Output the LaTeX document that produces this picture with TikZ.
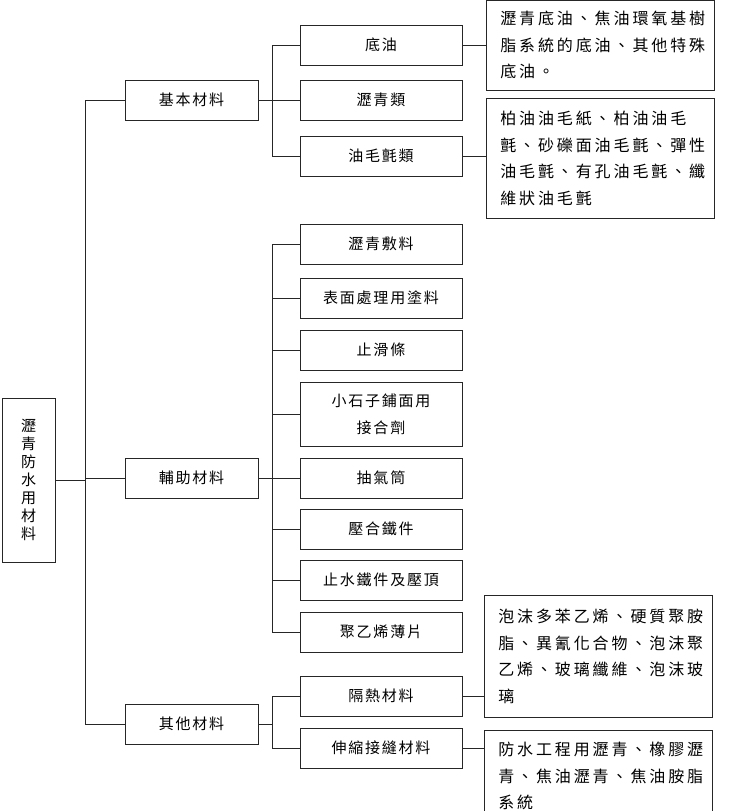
\documentclass[tikz,border=0pt]{standalone}
\usepackage{fontspec}
\newfontfamily\cjk[LetterSpace=12]{Noto Sans CJK TC}
\newfontfamily\cjknote[LetterSpace=18]{Noto Sans CJK TC}
\usetikzlibrary{positioning}
\tikzset{
  every picture/.style = {
    line width=0.7pt,
    draw=black!85
  },
  rootbox/.style={
    draw,
    shape = rectangle,
    minimum width = 53pt,
    minimum height = 164pt,
    inner sep = 2pt,
    align = center,
    font = \cjk\fontsize{15}{18}\selectfont
  },
  cat/.style={
    draw,
    shape = rectangle,
    minimum width = 133pt,
    minimum height = 40pt,
    inner sep = 2pt,
    font = \cjk\fontsize{15}{18}\selectfont
  },
  item/.style={
    draw,
    shape = rectangle,
    minimum width = 162pt,
    minimum height = 40pt,
    inner sep = 2pt,
    align = center,
    font = \cjk\fontsize{15}{27}\selectfont
  },
  note/.style={
    draw,
    shape = rectangle,
    anchor = north west,
    text width = 200pt,
    minimum width = 228pt,
    inner xsep = 14pt,
    inner ysep = 4pt,
    align = left,
    font = \cjknote\fontsize{16}{26.5}\selectfont
  }
}

\begin{document}
\begin{tikzpicture}[x=1pt,y=-1pt]
    \useasboundingbox (0,0) rectangle (745,811);

    % root and main groups
    \node[rootbox] (root) at (28.5,480) {瀝\\青\\防\\水\\用\\材\\料};
    \node[cat] (base) at (191.5,100) {基本材料};
    \node[cat] (aux) at (191.5,478) {輔助材料};
    \node[cat] (other) at (191.5,724) {其他材料};

    % items
    \node[item] (oil) at (381,45) {底油};
    \node[item] (asph) at (381,100) {瀝青類};
    \node[item] (felt) at (381,156) {油毛氈類};

    \node[item] (comp) at (381,244) {瀝青敷料};
    \node[item] (coat) at (381,298) {表面處理用塗料};
    \node[item] (strip) at (381,350) {止滑條};
    \node[item, minimum height=64pt] (chip) at (381,414) {小石子鋪面用\\接合劑};
    \node[item] (vent) at (381,478) {抽氣筒};
    \node[item] (press) at (381,529) {壓合鐵件};
    \node[item] (stop) at (381,580) {止水鐵件及壓頂};
    \node[item] (film) at (381,632) {聚乙烯薄片};

    \node[item] (insul) at (381,696) {隔熱材料};
    \node[item] (joint) at (381,748) {伸縮接縫材料};

    % notes
    \node[note, minimum height=90pt] (n1) at (486,0) {瀝青底油、焦油環氧基樹\\脂系統的底油、其他特殊\\底油。};
    \node[note, minimum height=120pt] (n2) at (486,98) {柏油油毛紙、柏油油毛\\氈、砂礫面油毛氈、彈性\\油毛氈、有孔油毛氈、纖\\維狀油毛氈};
    \node[note, minimum height=122pt] (n3) at (484,595) {泡沫多苯乙烯、硬質聚胺\\脂、異氰化合物、泡沫聚\\乙烯、玻璃纖維、泡沫玻\\璃};
    \node[note, minimum height=92pt] (n4) at (484,730) {防水工程用瀝青、橡膠瀝\\青、焦油瀝青、焦油胺脂\\系統};

    % connectors
    \coordinate (j0) at (85,480);
    \coordinate (j1) at (272,0);
    \draw (root.east) -- (j0);
    \draw (base.west -| j0) -- (other.west -| j0);
    \foreach \n in {base,aux,other} \draw (\n.west) -- (\n.west -| j0);

    \draw (base.east) -- (base.east -| j1);
    \draw (oil.west -| j1) -- (felt.west -| j1);
    \foreach \n in {oil,asph,felt} \draw (\n.west) -- (\n.west -| j1);

    \draw (aux.east) -- (aux.east -| j1);
    \draw (comp.west -| j1) -- (film.west -| j1);
    \foreach \n in {comp,coat,strip,chip,vent,press,stop,film} \draw (\n.west) -- (\n.west -| j1);

    \draw (other.east) -- (other.east -| j1);
    \draw (insul.west -| j1) -- (joint.west -| j1);
    \foreach \n in {insul,joint} \draw (\n.west) -- (\n.west -| j1);

    \draw (oil.east) -- (oil.east -| n1.west);
    \draw (felt.east) -- (felt.east -| n2.west);
    \draw (insul.east) -- (insul.east -| n3.west);
    \draw (joint.east) -- (joint.east -| n4.west);
\end{tikzpicture}
\end{document}
